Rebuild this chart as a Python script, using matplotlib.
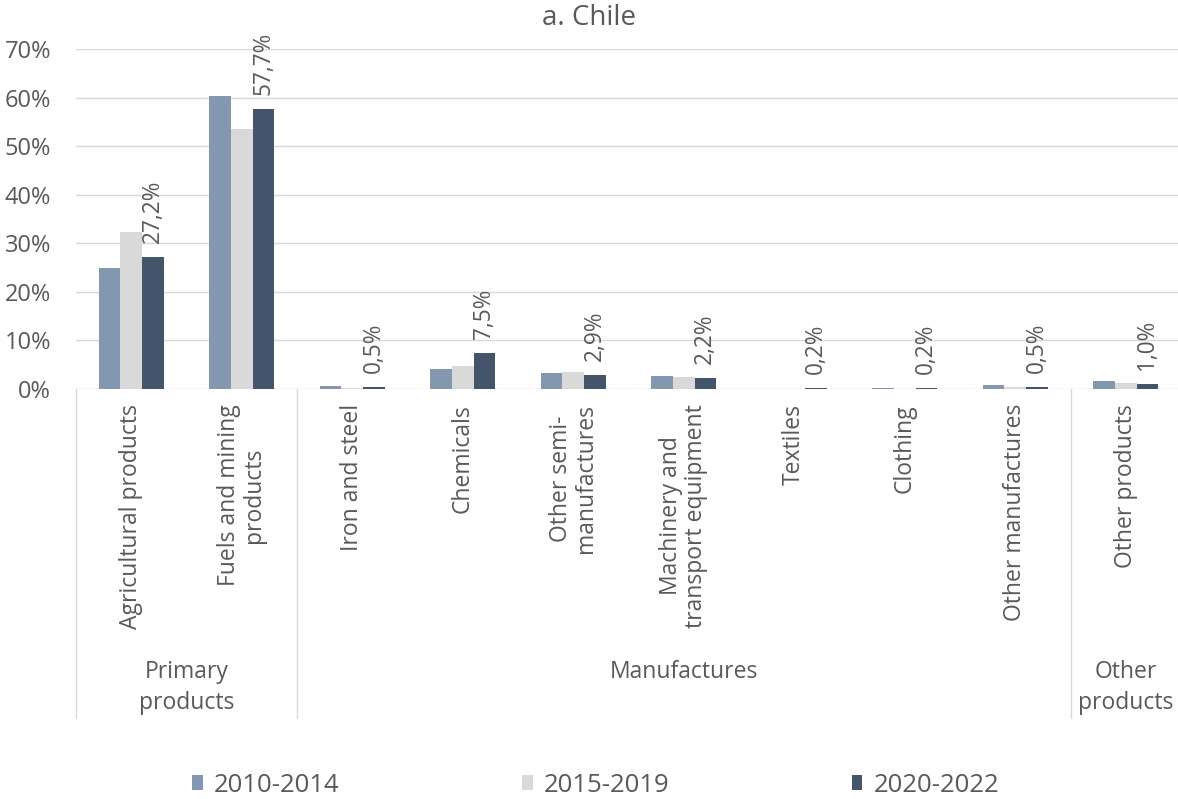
import matplotlib
matplotlib.use("Agg")
import matplotlib.pyplot as plt
from matplotlib.transforms import blended_transform_factory

# Export structure of Chile by product group (% of total)
categories = [
    "Agricultural products",
    "Fuels and mining\nproducts",
    "Iron and steel",
    "Chemicals",
    "Other semi-\nmanufactures",
    "Machinery and\ntransport equipment",
    "Textiles",
    "Clothing",
    "Other manufactures",
    "Other products",
]
periods = ["2010-2014", "2015-2019", "2020-2022"]
share_2010_2014 = [25.0, 60.4, 0.6, 4.2, 3.2, 2.7, 0.1, 0.3, 0.8, 1.7]
share_2015_2019 = [32.4, 53.5, 0.3, 4.7, 3.4, 2.4, 0.1, 0.1, 0.5, 1.2]
share_2020_2022 = [27.2, 57.7, 0.5, 7.5, 2.9, 2.2, 0.2, 0.2, 0.5, 1.0]
groups = [("Primary\nproducts", 0, 2), ("Manufactures", 2, 9), ("Other\nproducts", 9, 10)]
y_ticks = [0, 10, 20, 30, 40, 50, 60, 70]

colors = ["#8497B0", "#D9D9D9", "#44546A"]
text_color = "#595959"
grid_color = "#D9D9D9"
font = "Open Sans"
fs_tick = 17
fs_cat = 16.5
fs_val = 16.3
fs_title = 20
fs_leg = 18.5

plt.rcParams["font.family"] = [font, "DejaVu Sans"]

W, H = 1178, 799
fig = plt.figure(figsize=(W / 100, H / 100), dpi=100)
ax_left, ax_right, ax_top, ax_bottom = 76, 1181, 49, 389
ax = fig.add_axes([ax_left / W, 1 - ax_bottom / H, (ax_right - ax_left) / W, (ax_bottom - ax_top) / H])

series = [share_2010_2014, share_2015_2019, share_2020_2022]
bw = 0.195
centers = [i + 0.5 for i in range(len(categories))]
bars = []
for k, (vals, col) in enumerate(zip(series, colors)):
    xs = [c + (k - 1) * bw for c in centers]
    b = ax.bar(xs, vals, width=bw, color=col, zorder=3, linewidth=0)
    bars.append(b)

# value labels above the latest period
for c, v in zip(centers, share_2020_2022):
    ax.annotate(f"{v:.1f}%".replace(".", ","), xy=(c + bw, v), xytext=(0, 10),
                textcoords="offset points", rotation=90, ha="center", va="bottom",
                fontsize=fs_val, color=text_color)

ax.set_xlim(0, len(categories))
ax.set_ylim(0, 70)
ax.set_yticks(y_ticks)
ax.set_yticklabels([f"{t}%" for t in y_ticks])
ax.tick_params(axis="y", length=0, pad=18, labelsize=fs_tick, labelcolor=text_color)
ax.set_xticks([])
for s in ax.spines.values():
    s.set_visible(False)
ax.grid(axis="y", color=grid_color, linewidth=1.0, zorder=0)
ax.set_axisbelow(True)

trans = blended_transform_factory(ax.transData, ax.transAxes)
ax_h = ax_bottom - ax_top
def px_to_axes_y(py):
    return -(py - ax_bottom) / ax_h

# category labels
for c, name in zip(centers, categories):
    ax.text(c, px_to_axes_y(404), name, transform=trans, rotation=90, ha="center", va="top",
            multialignment="center", fontsize=fs_cat, color=text_color, linespacing=1.05)

# group separators and labels
line_bottom = px_to_axes_y(718)
edges = sorted({g[1] for g in groups})
for e in edges:
    ax.plot([e, e], [0, line_bottom], transform=trans, color=grid_color, linewidth=1.0, clip_on=False)
for i, (gname, a, b) in enumerate(groups):
    if i == len(groups) - 1:
        fig.text(0.996, 1 - 660 / H, gname, ha="right", va="top", multialignment="center",
                 fontsize=fs_cat, color=text_color, linespacing=1.4)
    else:
        ax.text((a + b) / 2, px_to_axes_y(660), gname, transform=trans, ha="center", va="top",
                multialignment="center", fontsize=fs_cat, color=text_color, linespacing=1.4)

fig.text(589 / W, 1 - 18 / H, "a. Chile", ha="center", va="center", fontsize=fs_title, color=text_color)

leg = fig.legend([b[0] for b in bars], periods, loc="center", bbox_to_anchor=(596 / W, 1 - 785 / H),
                 ncol=3, frameon=False, handlelength=0.4, handleheight=0.55, handletextpad=0.45,
                 columnspacing=7.1, fontsize=fs_leg)
for t in leg.get_texts():
    t.set_color(text_color)

fig.savefig("out.png", dpi=100)
